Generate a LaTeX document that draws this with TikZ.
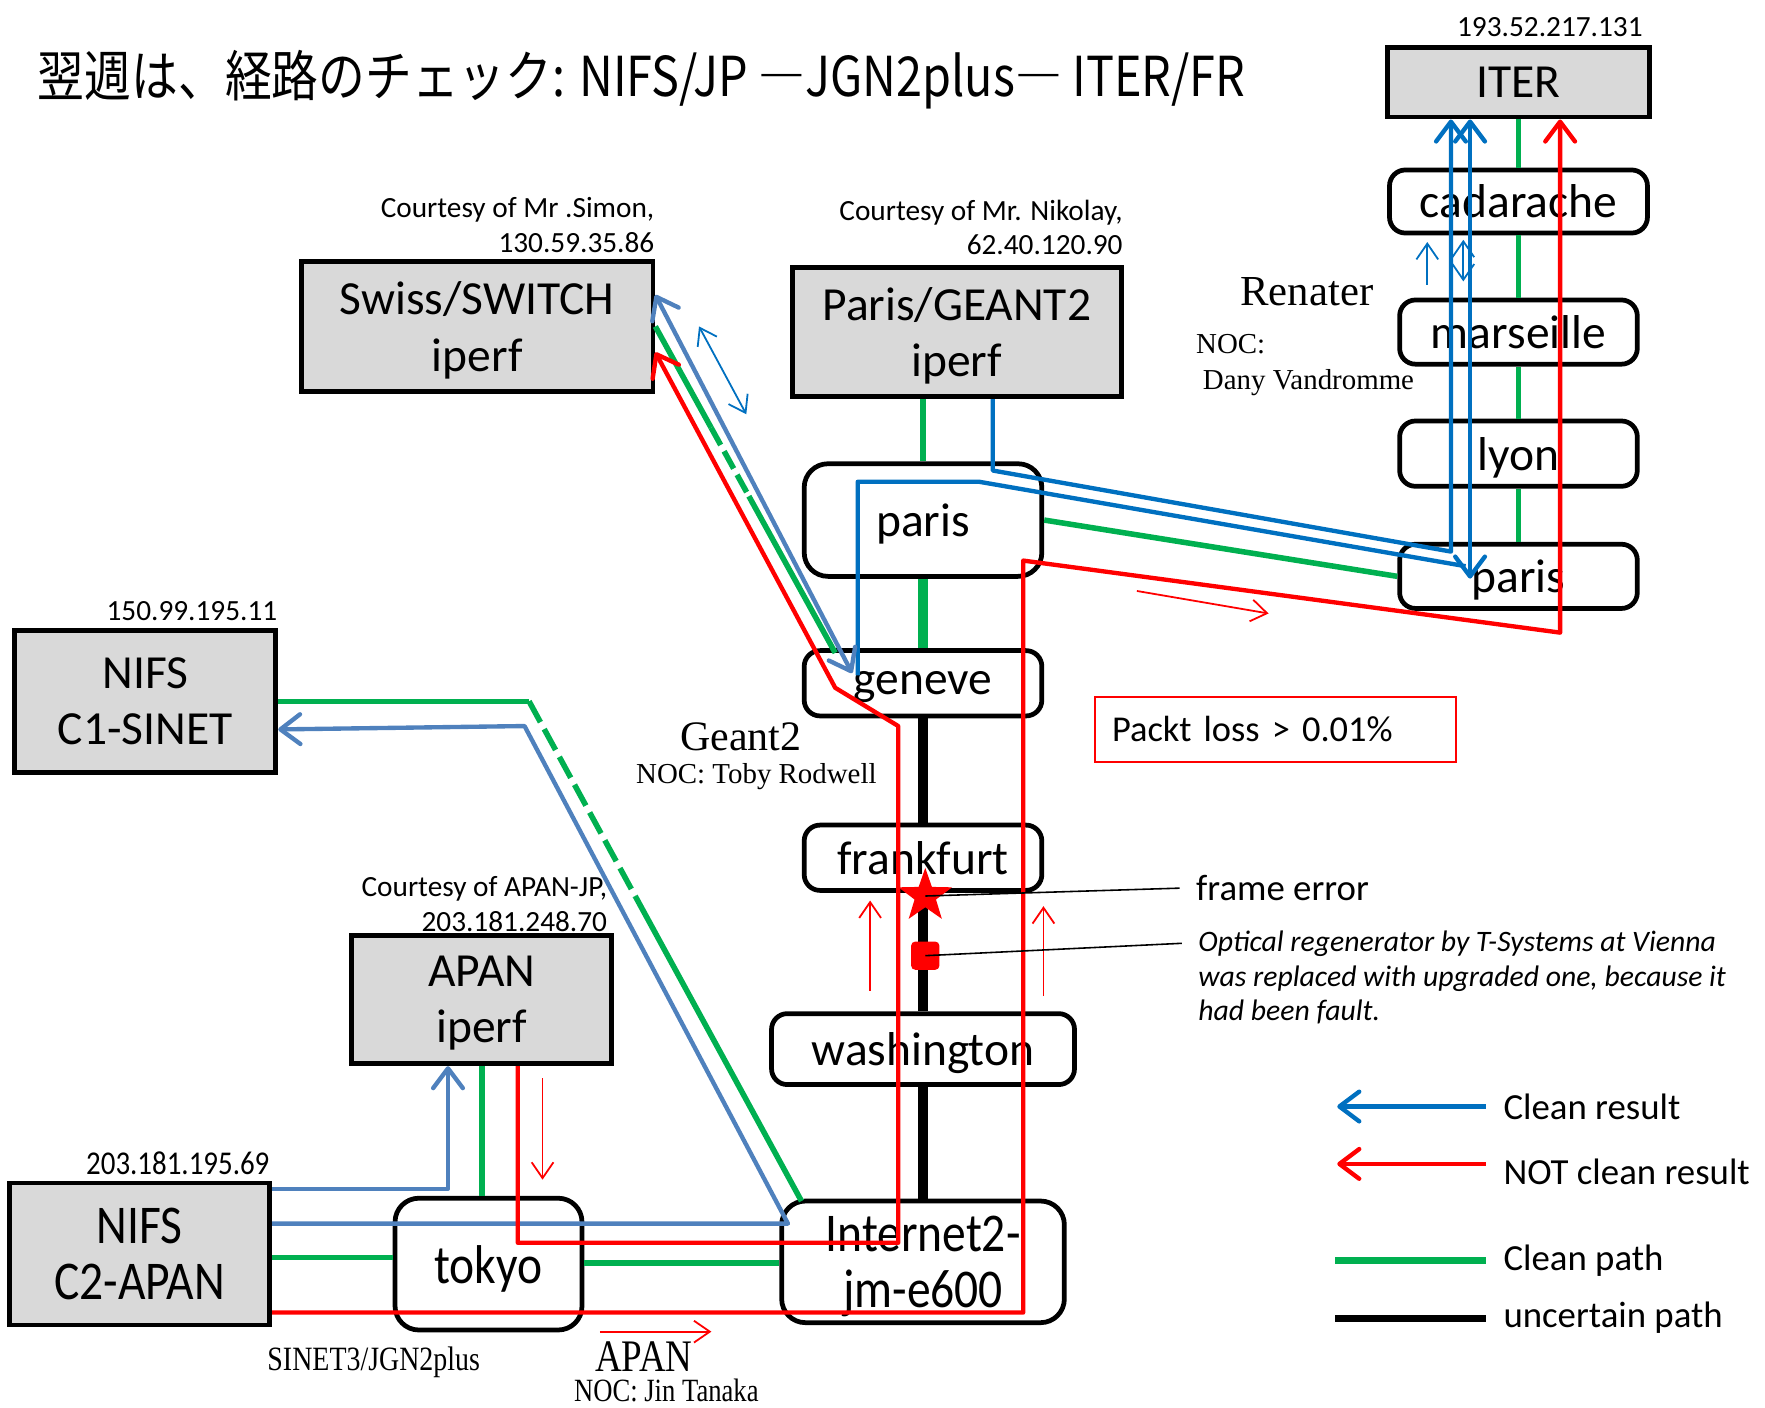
\documentclass[tikz,border=0pt]{standalone}
\usepackage{fontspec}
\setmainfont{Carlito}
\newfontfamily\narrowfont[FakeStretch=0.87]{Carlito}
\newfontfamily\timesfont{Liberation Serif}
\newfontfamily\timesnarrow[FakeStretch=0.82]{Liberation Serif}
\newfontfamily\jpfont[FakeStretch=0.85]{Noto Sans CJK JP}
\usepackage{tikz}
\definecolor{boxgray}{RGB}{217,217,217}
\definecolor{cleanblue}{RGB}{0,112,192}
\definecolor{softblue}{RGB}{79,129,189}
\definecolor{cleangreen}{RGB}{0,176,80}
\definecolor{lossred}{RGB}{255,0,0}
\usetikzlibrary{shapes.geometric, arrows.meta, calc}

\begin{document}
\begin{tikzpicture}[x=0.01cm, y=-0.01cm,
    server/.style={draw, line width=1.2pt, fill=boxgray, inner sep=0pt, align=center,
                   text depth=0pt, font=\fontsize{12}{14.2}\selectfont},
    router/.style={draw, line width=1.2pt, fill=white, rounded corners=4pt, inner sep=0pt,
                   align=center, text depth=0pt, font=\fontsize{12}{14.2}\selectfont},
    iplabel/.style={inner sep=0pt, align=right, font=\fontsize{7.4}{8.8}\selectfont},
    noc/.style={inner sep=0pt, align=center, font=\timesfont\fontsize{7.3}{9.1}\selectfont},
    legend/.style={anchor=west, inner sep=0pt, font=\fontsize{9.3}{11}\selectfont},
    cleanpath/.style={cleangreen, line width=1.4pt},
    thickclean/.style={cleangreen, line width=2.3pt},
    uncertain/.style={black, line width=2.3pt},
    cleanres/.style={cleanblue, line width=1.1pt, line join=round},
    softres/.style={softblue, line width=1.1pt, line join=round},
    lossres/.style={lossred, line width=1.1pt, line join=round},
    hint/.style={line width=0.45pt, -{Straight Barb[length=4pt,width=5.5pt]}},
    hintboth/.style={line width=0.45pt, {Straight Barb[length=4pt,width=5.5pt]}-{Straight Barb[length=4pt,width=5.5pt]}},
    >={Straight Barb[length=5pt,width=7.5pt,round]}
]
    \useasboundingbox (0,0) rectangle (1568,1250);

    % title
    \node[anchor=base west, inner sep=0pt, font=\jpfont\fontsize{13.9}{16}\selectfont] (title) at (33,86)
        {翌週は、経路のチェック: NIFS/JP ―JGN2plus― ITER/FR};

    % Renater side
    \node[server, minimum width=2.32cm, minimum height=0.62cm] (iter) at (1349,73) {ITER};
    \node[iplabel, anchor=east] (iterip) at (1460,24) {193.52.217.131};
    \node[router, minimum width=2.29cm, minimum height=0.56cm] (cadarache) at (1349,179) {cadarache};
    \node[router, minimum width=2.11cm, minimum height=0.57cm] (marseille) at (1349,295) {marseille};
    \node[router, minimum width=2.11cm, minimum height=0.58cm] (lyon) at (1349,403) {lyon};
    \node[router, minimum width=2.11cm, minimum height=0.57cm] (parisR) at (1349,512) {paris};
    \node[inner sep=0pt, font=\timesfont\fontsize{10.8}{12}\selectfont] (renater) at (1161,259) {Renater};
    \node[noc, anchor=north west, align=left] (renaternoc) at (1062,296) {NOC:\\\hspace*{0.6mm}Dany Vandromme};

    % Geant2 side
    \node[server, minimum width=3.12cm, minimum height=1.16cm] (swiss) at (424,290) {Swiss/SWITCH\\iperf};
    \node[iplabel, anchor=east] (swissip) at (582,200) {Courtesy of Mr .Simon,\\130.59.35.86};
    \node[server, minimum width=2.92cm, minimum height=1.15cm] (geant) at (850,295) {Paris/GEANT2\\iperf};
    \node[iplabel, anchor=east] (geantip) at (998,202) {Courtesy of Mr. Nikolay,\\62.40.120.90};
    \node[router, rounded corners=6pt, minimum width=2.11cm, minimum height=1.00cm] (parisG) at (820,462) {paris};
    \node[router, minimum width=2.11cm, minimum height=0.58cm] (geneve) at (820,607) {geneve};
    \node[router, minimum width=2.11cm, minimum height=0.58cm] (frankfurt) at (820,762) {frankfurt};
    \node[router, minimum width=2.69cm, minimum height=0.63cm] (washington) at (820,932) {washington};
    \node[router, rounded corners=6pt, minimum width=2.51cm, minimum height=1.08cm,
          font=\narrowfont\fontsize{13.8}{14.3}\selectfont] (internet2) at (820,1121) {Internet2-\\jm-e600};
    \node[inner sep=0pt, font=\timesfont\fontsize{10.6}{12}\selectfont] (geant2) at (658,655) {Geant2};
    \node[noc] (geantnoc) at (672,690) {NOC: Toby Rodwell};

    % Japan side
    \node[server, minimum width=2.32cm, minimum height=1.26cm] (nifsA) at (129,623) {NIFS\\C1-SINET};
    \node[iplabel, anchor=east] (nifsAip) at (247,543) {150.99.195.11};
    \node[server, minimum width=2.31cm, minimum height=1.14cm] (apan) at (428,888) {APAN\\iperf};
    \node[iplabel, anchor=east] (apanip) at (540,803) {Courtesy of APAN-JP,\\203.181.248.70};
    \node[server, minimum width=2.31cm, minimum height=1.26cm,
          font=\narrowfont\fontsize{13.8}{14.2}\selectfont] (nifsB) at (124,1114) {NIFS\\C2-APAN};
    \node[iplabel, anchor=east, font=\narrowfont\fontsize{8.4}{10}\selectfont] (nifsBip) at (240,1033) {203.181.195.69};
    \node[router, rounded corners=6pt, minimum width=1.66cm, minimum height=1.17cm,
          font=\narrowfont\fontsize{13.8}{14.2}\selectfont] (tokyo) at (434,1123) {tokyo};
    \node[inner sep=0pt, font=\timesnarrow\fontsize{8.6}{10}\selectfont] (sinet) at (332,1210) {SINET3/JGN2plus};
    \node[inner sep=0pt, font=\timesnarrow\fontsize{11.4}{12}\selectfont] (apanlbl) at (572,1205) {APAN};
    \node[inner sep=0pt, font=\timesnarrow\fontsize{8.2}{10}\selectfont] (apannoc) at (592,1235) {NOC: Jin Tanaka};

    % notes
    \node[draw=lossred, line width=0.5pt, minimum height=0.57cm, text width=2.9cm, inner xsep=0.15cm,
          align=left, font=\fontsize{9.2}{11}\selectfont] (packt) at (1133,648) {Packt loss > 0.01\%};
    \node[anchor=west, inner sep=0pt, font=\fontsize{9.3}{11}\selectfont] (frameerr) at (1062,789) {frame error};
    \node[anchor=north west, inner sep=0pt, align=left, font=\itshape\fontsize{7.5}{8.8}\selectfont] (regen) at (1064,826)
        {Optical regenerator by T-Systems at Vienna\\was replaced with upgraded one, because it\\had been fault.};

    % clean paths
    \draw[cleanpath] (iter) -- (cadarache) (cadarache) -- (marseille) (marseille) -- (lyon) (lyon) -- (parisR);
    \draw[cleanpath] (geant.south -| parisG.north) -- (parisG.north);
    \draw[thickclean] (parisG) -- (geneve);
    \draw[cleanpath] (parisG.east) -- (parisR.west);
    \coordinate (gvtop) at (742,580);
    \draw[cleanpath] (swiss.east) -- ($(swiss.east)!0.31!(gvtop)$);
    \draw[cleanpath, dash pattern=on 5pt off 1.8pt] ($(swiss.east)!0.31!(gvtop)$) -- ($(swiss.east)!0.52!(gvtop)$);
    \draw[cleanpath] ($(swiss.east)!0.52!(gvtop)$) -- (gvtop);
    \coordinate (sinetbend) at (470,623);
    \coordinate (i2corner) at (712,1067);
    \draw[cleanpath] (nifsA.east) -- (sinetbend);
    \draw[cleanpath, dash pattern=on 6pt off 2pt] (sinetbend) -- ($(sinetbend)!0.39!(i2corner)$);
    \draw[cleanpath] ($(sinetbend)!0.39!(i2corner)$) -- (i2corner);
    \draw[cleanpath] (nifsB.east |- 0,1117) -- (tokyo.west |- 0,1117);
    \draw[cleanpath] (tokyo.east |- 0,1122) -- (internet2.west |- 0,1122);
    \draw[cleanpath] (apan.south) -- (apan.south |- tokyo.north);

    % uncertain path
    \draw[uncertain] (geneve) -- (frankfurt) (frankfurt) -- (washington) (washington) -- (internet2);

    % clean results
    \draw[cleanres, ->] (geant.south -| 882,0) -- (882,418) -- (1289,490) -- (iter.south -| 1289,0);
    \draw[cleanres] (762,600) -- (762,428) -- (870,428) -- (1302,503);
    \draw[cleanres, <->] (1306,514) -- (iter.south -| 1306,0);
    \draw[softres, <->] (swiss.east |- 0,262) -- (757,598);
    \draw[softres, ->] (nifsB.east |- 0,1087) -- (700,1087) -- (466,645) -- (nifsA.east |- 0,648);
    \draw[softres, ->] (nifsB.east |- 0,1056) -- (398,1056) -- (apan.south -| 398,0);

    % not clean results
    \draw[lossres, ->] (nifsB.east |- 0,1166) -- (909,1166) -- (909,498) -- (1386,562) -- (iter.south -| 1386,0);
    \draw[lossres, ->] (apan.south -| 460,0) -- (460,1104) -- (798,1104) -- (798,645) -- (742,611) -- (swiss.east |- 0,313);

    % direction hints
    \draw[hint, lossred] (1010,525) -- (1127,545);
    \draw[hint, lossred] (482,958) -- (482,1048);
    \draw[hint, lossred] (773,880) -- (773,800);
    \draw[hint, lossred] (927,885) -- (927,805);
    \draw[hint, lossred] (533,1183) -- (632,1183);
    \draw[hintboth, cleanblue] (621,290) -- (663,368);
    \draw[hint, cleanblue] (1268,253) -- (1268,215);
    \draw[hintboth, cleanblue] (1300,250) -- (1300,213);

    % faults
    \node[star, star points=5, star point ratio=2.5, fill=lossred, inner sep=0pt, minimum size=0.5cm] (fault) at (822,796) {};
    \node[fill=lossred, rounded corners=1pt, minimum size=0.25cm, inner sep=0pt] (regenbox) at (822,849) {};
    \coordinate (regentip) at (1050,838);
    \draw[line width=0.4pt] (fault.center) -- ([xshift=-0.14cm]frameerr.west);
    \draw[line width=0.4pt] (regenbox.center) -- (regentip);

    % legend
    \node[legend] (lgclean) at (1335,983) {Clean result};
    \node[legend] (lgloss) at (1335,1041) {NOT clean result};
    \node[legend] (lgpath) at (1335,1120) {Clean path};
    \node[legend] (lgunsure) at (1335,1171) {uncertain path};
    \draw[cleanres, ->] ([xshift=-0.15cm]lgclean.west) -- ++(-132,0);
    \draw[lossres, ->] ([xshift=-0.15cm, yshift=0.07cm]lgloss.west) -- ++(-132,0);
    \draw[cleanpath, line width=1.7pt] ([xshift=-0.15cm]lgpath.west) -- ++(-134,0);
    \draw[uncertain, line width=1.7pt] ([xshift=-0.15cm]lgunsure.west) -- ++(-134,0);
\end{tikzpicture}
\end{document}
